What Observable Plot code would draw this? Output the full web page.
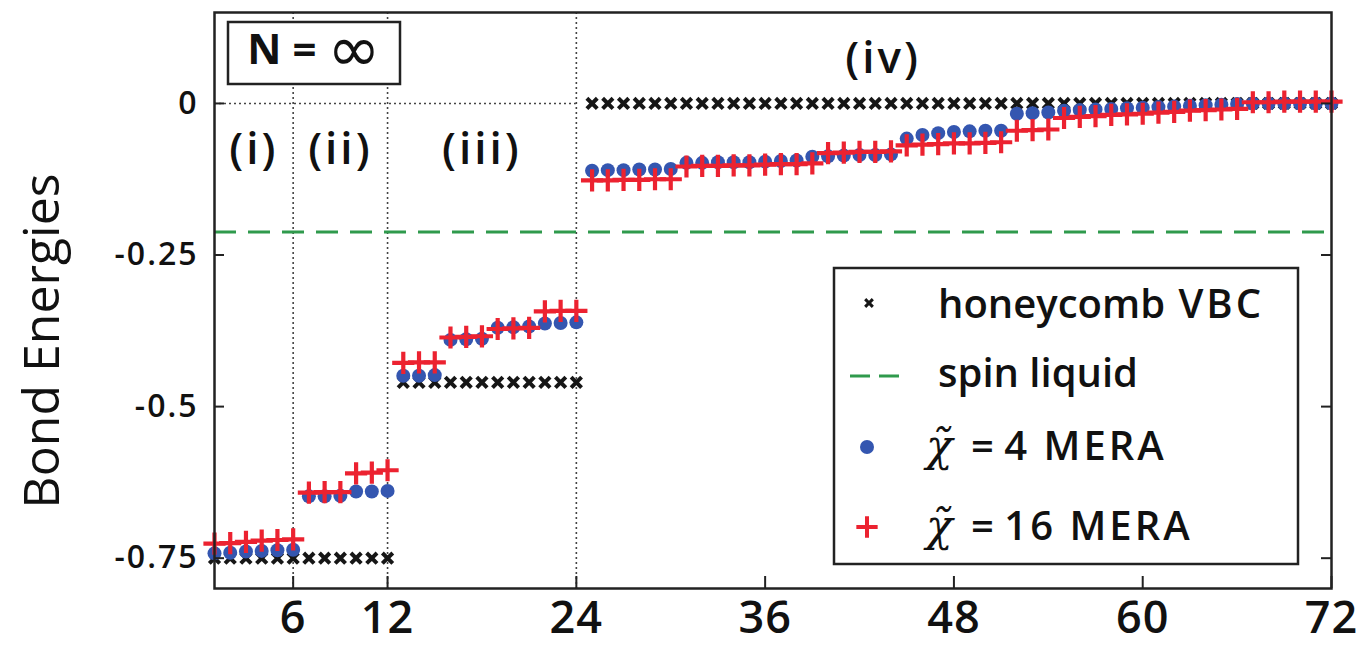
<!DOCTYPE html>
<html><head><meta charset="utf-8">
<script src="https://cdn.jsdelivr.net/npm/d3@7"></script>
<script src="https://cdn.jsdelivr.net/npm/@observablehq/plot@0.6"></script>
<style>
html,body{margin:0;padding:0;background:#fff;}
#chart{width:1360px;height:646px;}
</style></head><body><div id="chart"></div>
<script>
// ---------- data ----------
const bondIndex = d3.range(1, 73);
const honeycombVBC = [
  -0.75,-0.75,-0.75,-0.75,-0.75,-0.75,-0.75,-0.75,-0.75,-0.75,-0.75,-0.75,
  -0.46,-0.46,-0.46,-0.46,-0.46,-0.46,-0.46,-0.46,-0.46,-0.46,-0.46,-0.46,
  0,0,0,0,0,0,0,0,0,0,0,0,0,0,0,0,0,0,0,0,0,0,0,0,
  0,0,0,0,0,0,0,0,0,0,0,0,0,0,0,0,0,0,0,0,0,0,0,0
];
const mera4 = [
  -0.742,-0.741,-0.739,-0.738,-0.737,-0.736,
  -0.648,-0.648,-0.647,-0.640,-0.640,-0.639,
  -0.449,-0.449,-0.448,-0.390,-0.389,-0.388,
  -0.370,-0.369,-0.368,-0.363,-0.362,-0.361,
  -0.111,-0.110,-0.110,-0.109,-0.109,-0.108,
  -0.098,-0.098,-0.097,-0.097,-0.097,-0.096,-0.095,-0.094,
  -0.088,-0.087,-0.086,-0.085,-0.085,-0.084,
  -0.058,-0.052,-0.049,-0.047,-0.046,-0.045,-0.045,
  -0.017,-0.016,-0.015,
  -0.012,-0.011,-0.010,-0.009,-0.008,-0.007,-0.006,-0.005,-0.004,-0.003,
  -0.002,-0.001,0,0,0,0,0,0
];
const mera16 = [
  -0.726,-0.725,-0.723,-0.721,-0.720,-0.719,
  -0.642,-0.641,-0.641,-0.610,-0.609,-0.605,
  -0.428,-0.427,-0.427,-0.386,-0.385,-0.384,
  -0.372,-0.371,-0.370,-0.343,-0.342,-0.342,
  -0.127,-0.127,-0.126,-0.126,-0.125,-0.125,
  -0.104,-0.103,-0.103,-0.102,-0.102,-0.101,-0.100,-0.100,-0.099,
  -0.082,-0.081,-0.080,-0.080,-0.079,
  -0.069,-0.068,-0.067,-0.066,-0.066,-0.065,-0.064,
  -0.045,-0.044,-0.043,
  -0.024,-0.022,-0.021,-0.019,-0.018,-0.017,-0.015,-0.014,-0.012,-0.011,-0.010,-0.009,
  0.002,0.002,0.003,0.003,0.003,0.003
];
const spinLiquid = -0.212;
const sectorBounds = [6, 12, 24];
const sectorLabels = ["(i)", "(ii)", "(iii)", "(iv)"];
const sectorLabelX = [3.5, 9, 18, 43.5];
const sectorLabelY = [-0.076, -0.076, -0.076, 0.074];
const xTicks = [6, 12, 24, 36, 48, 60, 72];
const yTicks = [0, -0.25, -0.5, -0.75];
const legendLabels = ["honeycomb VBC", "spin liquid", "4 MERA", "16 MERA"];
const yLabel = "Bond Energies";
const nLabel = ["N = ", "∞"];

// ---------- tables ----------
const vbcData = bondIndex.map((x, i) => ({x, y: honeycombVBC[i]}));
const m4Data = bondIndex.map((x, i) => ({x, y: mera4[i]}));
const m16Data = bondIndex.map((x, i) => ({x, y: mera16[i]}));
const sectors = sectorLabels.map((t, i) => ({t, x: sectorLabelX[i], y: sectorLabelY[i]}));

const W = 1360, H = 646, mL = 214, mR = 29, mT = 12, mB = 58;
const innerW = W - mL - mR, innerH = H - mT - mB;
const cBlack = "#161616", cBlue = "#3456b0", cRed = "#ec2230", cGreen = "#2f9a4c";
const font = "'Open Sans', 'DejaVu Sans', sans-serif";

const chart = Plot.plot({
  width: W, height: H,
  marginLeft: mL, marginRight: mR, marginTop: mT, marginBottom: mB,
  x: {domain: [1, 72]},
  y: {domain: [-0.8, 0.15]},
  style: {fontFamily: font, background: "#fff", overflow: "visible", color: "#111"},
  marks: [
    Plot.ruleX(sectorBounds, {x: d => d, stroke: "#444", strokeWidth: 1.6, strokeDasharray: "2,3"}),
    Plot.ruleY([0], {y: d => d, x1: 1, x2: 24, stroke: "#444", strokeWidth: 1.6, strokeDasharray: "2,3"}),
    Plot.ruleY([spinLiquid], {y: d => d, stroke: cGreen, strokeWidth: 3, strokeDasharray: "22,12"}),
    Plot.dot(vbcData, {x: "x", y: "y", symbol: "times", r: 4.8, stroke: cBlack, strokeWidth: 4}),
    Plot.dot(m4Data, {x: "x", y: "y", r: 7, fill: cBlue, stroke: "none"}),
    Plot.dot(m16Data, {x: "x", y: "y", symbol: "plus", r: 7.2, stroke: cRed, strokeWidth: 4.2}),
    Plot.tickY(yTicks, {y: d => d, insetRight: innerW - 10, stroke: "#222", strokeWidth: 2}),
    Plot.tickY(yTicks, {y: d => d, insetLeft: innerW - 10, stroke: "#222", strokeWidth: 2}),
    Plot.tickX(xTicks, {x: d => d, insetTop: innerH - 12, stroke: "#222", strokeWidth: 2}),
    Plot.axisY(yTicks, {tickSize: 0, tickPadding: 16, label: null, fontSize: 32, fontWeight: 600,
      tickFormat: d => d === 0 ? "0" : String(d).replace("−", "-")}),
    Plot.axisX(xTicks, {tickSize: 0, tickPadding: 13, label: null, fontSize: 45, fontWeight: 600,
      tickFormat: d => String(d)}),
    Plot.text(sectors, {x: "x", y: "y", text: "t", fontSize: 44, fontWeight: 600, fill: "#111"}),
    Plot.frame({stroke: "#222", strokeWidth: 2.5})
  ]
});
document.getElementById("chart").appendChild(chart);

// ---------- annotations: y label, N box, legend ----------
const svg = d3.select(chart);
svg.selectAll("g[aria-label='y-axis tick label'] text").attr("letter-spacing", 2);
svg.selectAll("g[aria-label='x-axis tick label'] text").attr("letter-spacing", 1);
svg.selectAll("g[aria-label='text'] text").attr("letter-spacing", 3);

svg.append("text").text(yLabel)
  .attr("transform", "translate(46,341) rotate(-90)")
  .attr("text-anchor", "middle").attr("dominant-baseline", "middle")
  .attr("font-family", font).attr("font-size", 50).attr("font-weight", 500).attr("fill", "#111");

const nb = svg.append("g");
nb.append("rect").attr("x", 228).attr("y", 22).attr("width", 172).attr("height", 62)
  .attr("fill", "#fff").attr("stroke", "#222").attr("stroke-width", 2.5);
const nt = nb.append("text").attr("x", 314).attr("y", 53)
  .attr("text-anchor", "middle").attr("dominant-baseline", "middle")
  .attr("font-family", font).attr("font-size", 42).attr("font-weight", 700).attr("fill", "#111");
nt.append("tspan").text(nLabel[0]);
nt.append("tspan").text(nLabel[1]).attr("font-size", 64).attr("font-weight", 400).attr("font-family", "'DejaVu Sans', sans-serif");

const lg = svg.append("g").attr("font-family", font).attr("fill", "#111").attr("text-anchor", "start");
lg.append("rect").attr("x", 834).attr("y", 268).attr("width", 464).attr("height", 296)
  .attr("fill", "#fff").attr("stroke", "#222").attr("stroke-width", 2.5);
const rowY = [307, 376, 447, 527];
lg.append("path").attr("transform", `translate(869,${rowY[0] - 4})`)
  .attr("d", d3.symbol(d3.symbolTimes, 40)()).attr("stroke", cBlack).attr("stroke-width", 3).attr("fill", "none");
lg.append("line").attr("x1", 850).attr("x2", 900).attr("y1", rowY[1]).attr("y2", rowY[1])
  .attr("stroke", cGreen).attr("stroke-width", 3).attr("stroke-dasharray", "20,9");
lg.append("circle").attr("cx", 867).attr("cy", rowY[2]).attr("r", 7).attr("fill", cBlue);
lg.append("path").attr("transform", `translate(867,${rowY[3]})`)
  .attr("d", d3.symbol(d3.symbolPlus, 150)()).attr("stroke", cRed).attr("stroke-width", 4).attr("fill", "none");

[0, 1].forEach(i => {
  const t = lg.append("text").attr("x", 938).attr("y", rowY[i])
    .attr("text-anchor", "start")
    .attr("dominant-baseline", "middle").attr("font-size", 40).attr("font-weight", 600);
  if (i === 0) {
    t.append("tspan").text("honeycomb");
    t.append("tspan").text(" VBC").attr("letter-spacing", 3);
  } else {
    t.text(legendLabels[i]);
  }
});
[2, 3].forEach(i => {
  const t = lg.append("text").attr("x", 926).attr("y", rowY[i] + 2)
    .attr("text-anchor", "start")
    .attr("dominant-baseline", "middle").attr("font-size", 40).attr("font-weight", 600);
  t.append("tspan").text("χ̃").attr("font-family", "'DejaVu Serif', serif").attr("font-style", "italic").attr("font-weight", 400).attr("font-size", 44);
  t.append("tspan").text(" = ").attr("dx", 8);
  t.append("tspan").text(legendLabels[i]).attr("letter-spacing", 3);
});
</script>
</body></html>
